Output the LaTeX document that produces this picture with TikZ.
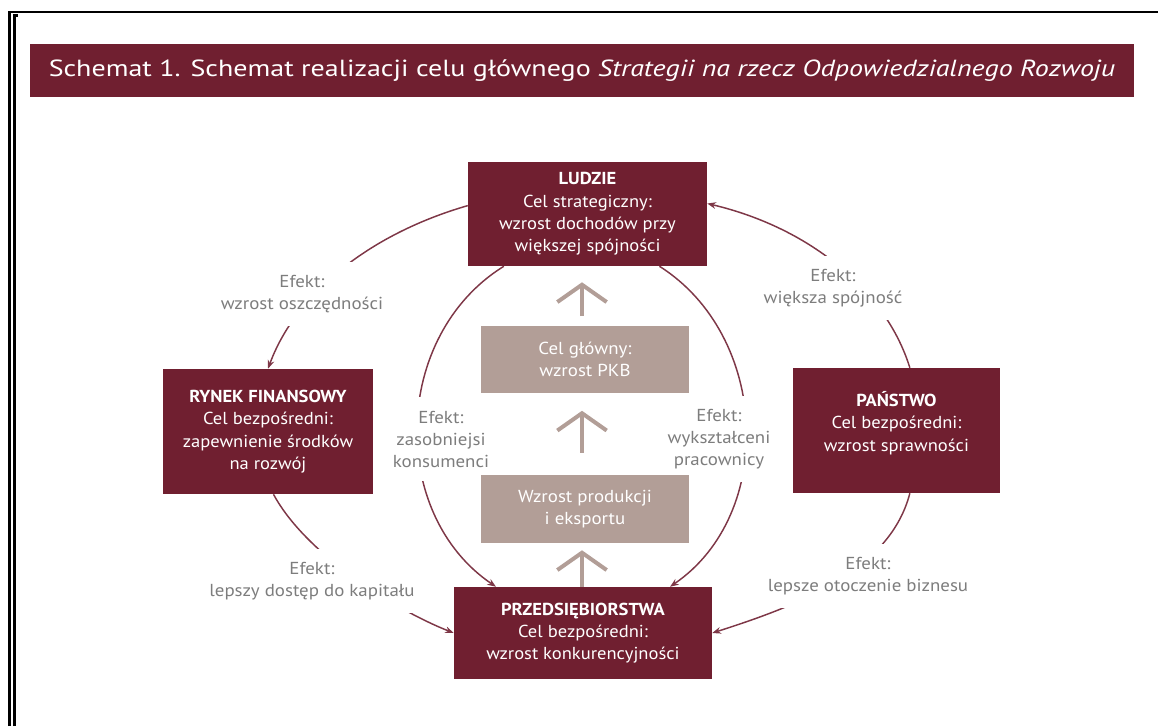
\documentclass[tikz,border=0pt]{standalone}
\usepackage{fontspec}
\setmainfont{PT Sans}[FakeStretch=1.09]
\newfontfamily\celfont{PT Sans}[FakeStretch=1.07]
\newfontfamily\tytulfont{PT Sans}[FakeStretch=1.2]
\usetikzlibrary{arrows.meta,backgrounds}
\definecolor{wino}{HTML}{701F30}
\definecolor{wrzos}{HTML}{B29E97}
\definecolor{lukkolor}{HTML}{7E3747}
\definecolor{szary}{HTML}{7D7D7D}
\tikzset{
  cel/.style={fill=wino,text=white,align=center,inner sep=0pt,font=\celfont\fontsize{13}{16.75}\selectfont},
  glowny/.style={fill=wrzos,text=white,align=center,inner sep=0pt,minimum width=156pt,font=\fontsize{13}{16.5}\selectfont},
  efekt/.style={fill=white,text=szary,align=center,inner xsep=1.5pt,inner ysep=10pt,font=\fontsize{13}{16.5}\selectfont},
  luk/.style={draw=lukkolor,line width=1.1pt},
  grot/.style={-{Stealth[length=6.5pt,width=5pt]}},
  wzwyz/.style={draw=wrzos,line width=3pt,-{Straight Barb[length=13pt,width=37pt]}},
}
\begin{document}
\begin{tikzpicture}[x=0.75pt,y=0.75pt,yscale=-1,xscale=1]
\useasboundingbox (0,0) rectangle (1158,726);
%Frame
\draw[line width=2.2pt] (9.3,726) -- (9.3,12) -- (1158,12);
\draw[line width=2pt] (14.3,726) -- (14.3,15.7) -- (17.7,15.7);
% Title bar
\node[fill=wino,text=white,inner sep=0pt,minimum width=828pt,minimum height=39.75pt,font=\tytulfont\fontsize{17.5}{21}\selectfont] (tytul) at (582,70.5) {Schemat 1. Schemat realizacji celu głównego \textit{Strategii na rzecz Odpowiedzialnego Rozwoju}};
% Boxes
\node[cel,minimum width=179.25pt,minimum height=78pt] (ludzie) at (587.5,214) {\textbf{LUDZIE}\\Cel strategiczny:\\wzrost dochodów przy\\większej spójności};
\node[cel,minimum width=157.5pt,minimum height=93.75pt] (rynek) at (268,431.5) {\textbf{RYNEK FINANSOWY}\\Cel bezpośredni:\\zapewnienie środków\\na rozwój};
\node[cel,minimum width=155.25pt,minimum height=93.75pt] (panstwo) at (896.5,430.5) {\textbf{PAŃSTWO}\\Cel bezpośredni:\\wzrost sprawności\\[-3pt]\mbox{}};
\node[cel,minimum width=193.5pt,minimum height=69pt] (przeds) at (583,633) {\textbf{PRZEDSIĘBIORSTWA}\\Cel bezpośredni:\\wzrost konkurencyjności};
\node[glowny,minimum height=50.25pt] (celg) at (585,359) {Cel główny:\\wzrost PKB};
\node[glowny,minimum height=51pt] (wzrost) at (585,509) {Wzrost produkcji\\i eksportu};
% Up arrows
\draw[wzwyz,shorten <=6.75pt,shorten >=12pt] ([xshift=-2.25pt]celg.north) -- ([xshift=-2.25pt]celg.north |- ludzie.south);
\draw[wzwyz,shorten <=16.5pt,shorten >=13.5pt] ([xshift=-2.25pt]wzrost.north) -- ([xshift=-2.25pt]wzrost.north |- celg.south);
\draw[wzwyz,shorten >=5.25pt] ([xshift=-0.75pt]przeds.north) -- ([xshift=-0.75pt]przeds.north |- wzrost.south);
\begin{scope}[on background layer]
%Curve Lines
\draw[luk,grot] (ludzie.176) .. controls (368.8,234.2) and (295.4,294.1) .. (rynek.north);
\draw[luk,grot] (panstwo.78) .. controls (886.3,291.8) and (811.8,228.3) .. (ludzie.5);
\draw[luk,grot] (rynek.-85) .. controls (305,553) and (393,609) .. (przeds.west);
\draw[luk,grot] (panstwo.-78) .. controls (890,570) and (800,605) .. (przeds.east);
\draw[luk,grot] (ludzie.212) .. controls (391.9,335.6) and (388.3,513.8) .. (przeds.152);
\draw[luk,grot] (ludzie.-36) .. controls (769.1,335.6) and (776.7,513.8) .. (przeds.28);
% Text Node
\node[efekt] (e1) at (302,294) {Efekt:\\wzrost oszczędności};
\node[efekt] (e2) at (833,288) {Efekt:\\większa spójność};
\node[efekt] (e3) at (441,439) {Efekt:\\zasobniejsi\\konsumenci};
\node[efekt] (e4) at (719,439) {Efekt:\\wykształceni\\pracownicy};
\node[efekt] (e5) at (312,581) {Efekt:\\lepszy dostęp do kapitału};
\node[efekt] (e6) at (868,576) {Efekt:\\lepsze otoczenie biznesu};
\end{scope}
\end{tikzpicture}
\end{document}
